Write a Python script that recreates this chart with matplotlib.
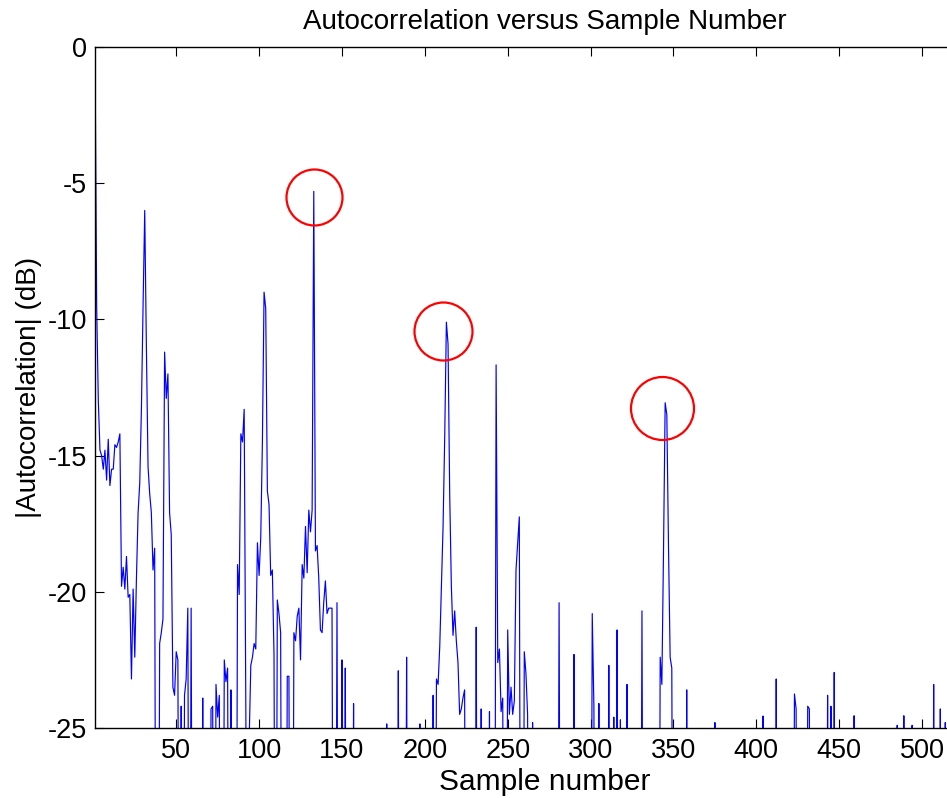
import matplotlib
matplotlib.use("Agg")
import matplotlib.pyplot as plt

plt.rcParams['font.family'] = ['Liberation Sans', 'DejaVu Sans']
plt.rcParams['axes.unicode_minus'] = False

L = -40.0  # below the visible floor of the axis

# |Autocorrelation| in dB for samples 1, 2, 3, ...
autocorr_db = [
    0.0, -9.5, -13.0, -14.8, -15.0, -15.5, -14.8, -15.9, -14.4, -16.1,      # 1-10
    -15.5, -15.5, -14.6, -14.7, -14.5, -14.2, -19.8, -19.1, -19.9, -18.7,   # 11-20
    -20.2, -20.1, -23.2, -19.9, -22.4, -19.5, -17.1, -16.0, -13.3, -9.5,    # 21-30
    -6.0, -11.0, -15.4, -16.4, -17.1, -19.2, -18.4, L, L, -21.9,            # 31-40
    -21.5, -21.0, -11.2, -12.9, -12.0, -17.1, -17.9, -23.5, -23.8, -22.2,   # 41-50
    -22.5, L, -24.2, L, -23.8, -23.2, -20.6, L, -20.6, L,                   # 51-60
    L, L, L, L, L, -23.9, L, L, L, L,                                       # 61-70
    -24.3, -24.2, L, -23.4, -24.6, -23.8, L, L, -22.5, -23.3,               # 71-80
    -22.8, L, -23.6, L, L, L, -19.0, -20.1, -14.2, -14.5,                   # 81-90
    -13.3, -24.3, L, -25.5, -22.7, -22.4, -21.9, -22.1, -18.2, -19.4,       # 91-100
    -18.0, -14.5, -9.0, -9.6, -16.3, -16.8, -19.4, -19.2, -22.3, L,         # 101-110
    -20.3, -20.8, -21.5, L, L, L, -23.1, -23.1, L, L,                       # 111-120
    -21.5, -21.8, -20.9, -20.6, -22.5, -19.0, -19.5, -17.6, -19.3, -17.0,   # 121-130
    -17.8, -17.0, -5.3, -18.5, -18.3, -19.5, -21.4, -21.5, -20.4, -19.6,    # 131-140
    -20.8, -20.6, -20.6, -20.6, L, L, -20.4, L, L, -22.5,                   # 141-150
    L, -22.8, L, L, L, L, -24.1, L, L, L,                                   # 151-160
    L, L, L, L, L, L, L, L, L, L,                                           # 161-170
    L, L, L, L, L, L, -24.85, L, L, L,                                      # 171-180
    L, L, L, -22.9, L, L, L, L, -22.4, L,                                   # 181-190
    L, L, L, L, L, L, -24.85, L, L, L,                                      # 191-200
    L, L, L, L, -23.8, L, -23.2, -23.4, -22.0, -19.8,                       # 201-210
    -17.6, -14.3, -10.1, -10.9, -16.4, -19.8, -21.6, -20.7, -21.8, -22.6,   # 211-220
    -24.5, -24.3, -23.9, -23.6, L, L, L, L, L, L,                           # 221-230
    -21.3, L, L, -24.3, L, L, L, L, -24.4, L,                               # 231-240
    L, L, -11.67, -22.6, -22.1, -24.4, -23.9, L, L, -21.4,                  # 241-250
    -24.5, -23.5, -24.5, -24.0, -19.2, -18.2, -17.25, L, L, -22.2,          # 251-260
    -23.0, -24.5, L, L, -24.8, L, L, L, L, L,                               # 261-270
    L, L, L, L, L, L, L, L, L, L,                                           # 271-280
    -20.4, L, L, L, L, L, L, L, L, -22.3,                                   # 281-290
    L, L, L, L, L, L, L, L, L, L,                                           # 291-300
    -20.8, -24.2, L, L, -24.1, L, L, L, L, L,                               # 301-310
    -22.7, L, L, -24.6, L, -21.4, L, -24.7, L, L,                           # 311-320
    L, -23.4, L, L, L, L, L, L, L, L,                                       # 321-330
    -20.7, L, L, L, L, L, L, L, L, L,                                       # 331-340
    L, -22.4, -23.4, -18.5, -13.06, -13.5, -18.3, -22.4, -22.8, L,          # 341-350
    L, L, L, L, L, L, L, -23.6, L, L,                                       # 351-360
    L, L, L, L, L, L, L, L, L, L,                                           # 361-370
    L, L, L, L, -24.8, L, L, L, L, L,                                       # 371-380
    L, L, L, L, L, L, L, L, L, L,                                           # 381-390
    L, L, L, L, L, L, L, L, L, L,                                           # 391-400
    L, L, L, -24.56, L, L, L, L, L, L,                                      # 401-410
    L, -23.2, L, L, L, L, L, L, L, L,                                       # 411-420
    L, L, -23.75, -24.3, L, L, L, L, L, L,                                  # 421-430
    -24.2, -24.3, L, L, L, L, L, L, L, L,                                   # 431-440
    L, L, -23.8, L, -24.2, L, -22.96, L, L, L,                              # 441-450
    L, L, L, L, L, L, L, L, -24.55, L,                                      # 451-460
    L, L, L, L, L, L, L, L, L, L,                                           # 461-470
    L, L, L, L, L, L, L, L, L, L,                                           # 471-480
    L, L, L, L, -24.9, L, L, L, -24.55, L,                                  # 481-490
    L, L, L, -24.9, L, L, L, L, L, L,                                       # 491-500
    L, L, L, L, L, L, -23.4, L, L, L,                                       # 501-510
    -24.3, L, L, -24.8, L,                                                  # 511-515
]
sample_number = list(range(1, len(autocorr_db) + 1))

# highlighted peaks (red circles)
circle_x = [133.25, 211.1, 343.2]
circle_y = [-5.51, -10.43, -13.25]
circle_diam_px = [56, 58, 63]

x_ticks = [50, 100, 150, 200, 250, 300, 350, 400, 450, 500]
y_ticks = [-25, -20, -15, -10, -5, 0]

W, H = 947, 798
fig = plt.figure(figsize=(W / 100, H / 100), dpi=100)
ax = fig.add_axes([95 / W, 70 / H, 900 / W, 681 / H])

ax.plot(sample_number, autocorr_db, color='#0000ff', lw=0.85)
for cx, cy, d in zip(circle_x, circle_y, circle_diam_px):
    ax.plot(cx, cy, marker='o', ms=d * 0.72, mfc='none', mec='#ff0000', mew=1.6,
            linestyle='none', clip_on=False)

ax.set_xlim(1, 544)
ax.set_ylim(-25, 0)
ax.set_xticks(x_ticks)
ax.set_yticks(y_ticks)
ax.tick_params(direction='in', top=True, right=True, length=6.5, width=0.8,
               labelsize=19.5)
ax.tick_params(axis='x', pad=7)
ax.tick_params(axis='y', pad=6)
for s in ax.spines.values():
    s.set_linewidth(1.0)

ax.set_title('Autocorrelation versus Sample Number', fontsize=20, pad=13)
ax.set_xlabel('Sample number', fontsize=21.5, labelpad=3)
ax.set_ylabel('|Autocorrelation| (dB)', fontsize=20, labelpad=4)

fig.savefig('out.png', dpi=100)
